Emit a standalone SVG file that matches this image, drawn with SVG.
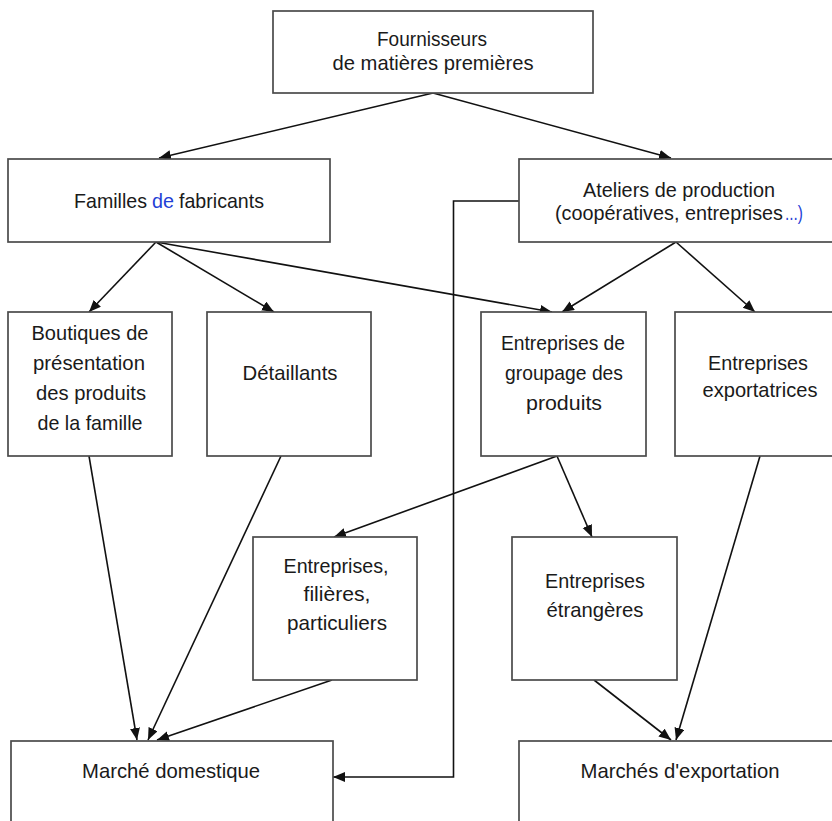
<svg xmlns="http://www.w3.org/2000/svg" width="832" height="821" viewBox="0 0 832 821">
<style>
.box{fill:#fff;stroke:#4a4a4a;stroke-width:1.7}
.t{font-family:"Liberation Sans",Arial,sans-serif;font-size:21px;fill:#1a1a1a;text-anchor:middle}
.s{text-anchor:start}
.b{fill:#1f3fd6}
.c{fill:none;stroke:#111;stroke-width:1.6}
</style>
<defs>
<marker id="ah" markerUnits="userSpaceOnUse" markerWidth="13" markerHeight="11" refX="12" refY="5" orient="auto">
<path d="M0,0 L12,5 L0,10 z" fill="#111"/>
</marker>
</defs>
<rect width="832" height="821" fill="#fff"/>
<g id="connectors">
<line class="c" x1="433" y1="93" x2="159" y2="158" marker-end="url(#ah)"/>
<line class="c" x1="433" y1="93" x2="671" y2="158" marker-end="url(#ah)"/>
<line class="c" x1="156" y1="242" x2="89" y2="312" marker-end="url(#ah)"/>
<line class="c" x1="156" y1="242" x2="274" y2="312" marker-end="url(#ah)"/>
<line class="c" x1="156" y1="242" x2="552" y2="312" marker-end="url(#ah)"/>
<line class="c" x1="676" y1="242" x2="562" y2="312" marker-end="url(#ah)"/>
<line class="c" x1="676" y1="242" x2="755" y2="312" marker-end="url(#ah)"/>
<polyline class="c" points="519,201 453.5,201 453.5,777 333,777" marker-end="url(#ah)"/>
<line class="c" x1="89" y1="456" x2="137" y2="740" marker-end="url(#ah)"/>
<line class="c" x1="281" y1="456" x2="148" y2="740" marker-end="url(#ah)"/>
<line class="c" x1="557" y1="456" x2="334" y2="537" marker-end="url(#ah)"/>
<line class="c" x1="557" y1="456" x2="592" y2="537" marker-end="url(#ah)"/>
<line class="c" x1="332" y1="680" x2="157" y2="740" marker-end="url(#ah)"/>
<line class="c" x1="760" y1="456" x2="676" y2="740" marker-end="url(#ah)"/>
<line class="c" x1="594" y1="680" x2="671" y2="740" marker-end="url(#ah)"/>
</g>
<g id="fournisseurs">
<rect class="box" x="273" y="11" width="320" height="82"/>
<text class="t" x="432" y="46" textLength="110" lengthAdjust="spacingAndGlyphs">Fournisseurs</text>
<text class="t" x="433" y="70" textLength="201" lengthAdjust="spacingAndGlyphs">de matières premières</text>
</g>
<g id="familles">
<rect class="box" x="8" y="159" width="322" height="83"/>
<text class="t s" x="74" y="208" textLength="73" lengthAdjust="spacingAndGlyphs">Familles</text>
<text class="t s b" x="152" y="208" textLength="22" lengthAdjust="spacingAndGlyphs">de</text>
<text class="t s" x="179" y="208" textLength="85" lengthAdjust="spacingAndGlyphs">fabricants</text>
</g>
<g id="ateliers">
<rect class="box" x="519" y="159" width="321" height="83"/>
<text class="t" x="679" y="197" textLength="192" lengthAdjust="spacingAndGlyphs">Ateliers de production</text>
<text class="t s" x="555" y="220" font-size="19.8" textLength="228" lengthAdjust="spacingAndGlyphs">(coopératives, entreprises</text>
<text class="t s b" x="785" y="220" textLength="18" lengthAdjust="spacingAndGlyphs">...)</text>
</g>
<g id="boutiques">
<rect class="box" x="8" y="312" width="164" height="144"/>
<text class="t" x="90" y="340" textLength="117" lengthAdjust="spacingAndGlyphs">Boutiques de</text>
<text class="t" x="89" y="370" textLength="112" lengthAdjust="spacingAndGlyphs">présentation</text>
<text class="t" x="91" y="400" textLength="110" lengthAdjust="spacingAndGlyphs">des produits</text>
<text class="t" x="90" y="430" textLength="105" lengthAdjust="spacingAndGlyphs">de la famille</text>
</g>
<g id="detaillants">
<rect class="box" x="207" y="312" width="164" height="144"/>
<text class="t" x="290" y="380" textLength="95" lengthAdjust="spacingAndGlyphs">Détaillants</text>
</g>
<g id="groupage">
<rect class="box" x="481" y="312" width="165" height="144"/>
<text class="t" x="563" y="350" textLength="124" lengthAdjust="spacingAndGlyphs">Entreprises de</text>
<text class="t" x="564" y="380" textLength="118" lengthAdjust="spacingAndGlyphs">groupage des</text>
<text class="t" x="564" y="410" textLength="76" lengthAdjust="spacingAndGlyphs">produits</text>
</g>
<g id="exportatrices">
<rect class="box" x="675" y="312" width="165" height="144"/>
<text class="t" x="758" y="370" textLength="100" lengthAdjust="spacingAndGlyphs">Entreprises</text>
<text class="t" x="760" y="397" textLength="115" lengthAdjust="spacingAndGlyphs">exportatrices</text>
</g>
<g id="filieres">
<rect class="box" x="253" y="537" width="164" height="143"/>
<text class="t" x="336" y="573" textLength="105" lengthAdjust="spacingAndGlyphs">Entreprises,</text>
<text class="t" x="337" y="601" textLength="67" lengthAdjust="spacingAndGlyphs">filières,</text>
<text class="t" x="337" y="630" textLength="100" lengthAdjust="spacingAndGlyphs">particuliers</text>
</g>
<g id="etrangeres">
<rect class="box" x="512" y="537" width="165" height="143"/>
<text class="t" x="595" y="588" textLength="100" lengthAdjust="spacingAndGlyphs">Entreprises</text>
<text class="t" x="595" y="617" textLength="97" lengthAdjust="spacingAndGlyphs">étrangères</text>
</g>
<g id="marche-domestique">
<rect class="box" x="11" y="741" width="322" height="90"/>
<text class="t" x="171" y="778" textLength="178" lengthAdjust="spacingAndGlyphs">Marché domestique</text>
</g>
<g id="marches-exportation">
<rect class="box" x="519" y="741" width="321" height="90"/>
<text class="t" x="680" y="778" textLength="199" lengthAdjust="spacingAndGlyphs">Marchés d'exportation</text>
</g>
</svg>
